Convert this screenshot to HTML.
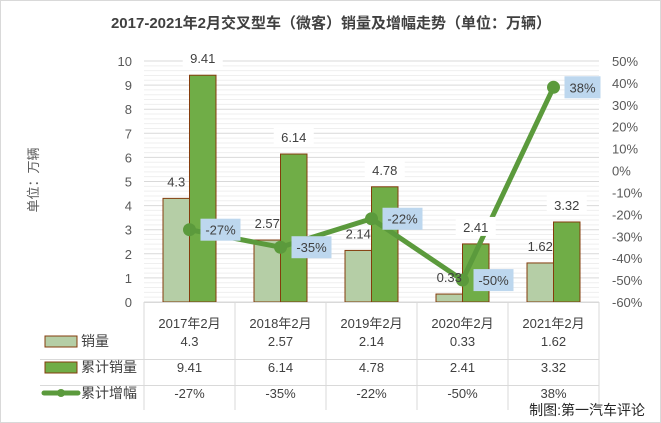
<!DOCTYPE html>
<html><head><meta charset="utf-8"><style>
body{margin:0;background:#fff}
svg{display:block;font-family:"Liberation Sans","Noto Sans CJK SC",sans-serif}
</style></head><body>
<svg width="661" height="423" viewBox="0 0 661 423">
<rect x="0.5" y="0.5" width="660" height="422" fill="#fff" stroke="#d9d9d9"/>
<text x="331" y="28" text-anchor="middle" font-size="15" font-weight="bold" fill="#404040">2017-2021年2月交叉型车（微客）销量及增幅走势（单位：万辆）</text>
<text transform="translate(38,180) rotate(-90)" text-anchor="middle" font-size="13" fill="#595959">单位：万辆</text>
<g id="grid"></g><g id="bars"></g><g id="line"></g><g id="labels"></g><g id="axes"></g><g id="table"></g>
<text x="645" y="415" text-anchor="end" font-size="14" fill="#262626">制图:第一汽车评论</text>
</svg>
<script>
const categories=["2017年2月","2018年2月","2019年2月","2020年2月","2021年2月"];
const sales=[4.3,2.57,2.14,0.33,1.62];
const cumSales=[9.41,6.14,4.78,2.41,3.32];
const growth=[-27,-35,-22,-50,38];
const leftTicks=[0,1,2,3,4,5,6,7,8,9,10];
const rightTicks=[-60,-50,-40,-30,-20,-10,0,10,20,30,40,50];
const NS="http://www.w3.org/2000/svg";
const L=144,R=599,T=61,B=302;
const step=(R-L)/categories.length;
const cx=i=>L+step*(i+0.5);
const yL=v=>B-(v/10)*(B-T);
const yR=p=>B-((p+60)/110)*(B-T);
function mk(tag,attrs,parent,txt){const e=document.createElementNS(NS,tag);for(const k in attrs)e.setAttribute(k,attrs[k]);if(txt!==undefined)e.textContent=txt;document.getElementById(parent).appendChild(e);return e;}
// grid
for(let v=0;v<=10.001;v+=0.2){const major=Math.abs(v-Math.round(v))<0.01;
 const g=mk('line',{x1:L,x2:R,y1:yL(v),y2:yL(v),stroke:major?'#d9d9d9':'#efefef','stroke-width':1},'grid');
 
 }
leftTicks.forEach(v=>{const t=mk('text',{x:132,y:yL(v)+5,'text-anchor':'end','font-size':13,fill:'#595959'},'axes',String(v));
 
 });
rightTicks.forEach(p=>{const t=mk('text',{x:612,y:yR(p)+5,'font-size':13,fill:'#595959'},'axes',p+'%');
 
 });
const bw=26.5;
categories.forEach((c,i)=>{
 const x=cx(i);
 const b1=mk('rect',{x:x-bw,y:yL(sales[i]),width:bw,height:B-yL(sales[i]),fill:'#b5cea6',stroke:'#843c0c','stroke-width':1},'bars');
 
 
 const b2=mk('rect',{x:x,y:yL(cumSales[i]),width:bw,height:B-yL(cumSales[i]),fill:'#70ad47',stroke:'#843c0c','stroke-width':1},'bars');
 
 
});
let d='';growth.forEach((p,i)=>{d+=(i?'L':'M')+cx(i)+','+yR(p);});
const ln=mk('path',{d:d,fill:'none',stroke:'#5b9a3c','stroke-width':5,'stroke-linejoin':'round'},'line');


growth.forEach((p,i)=>{const m=mk('circle',{cx:cx(i),cy:yR(p),r:6.5,fill:'#5b9a3c'},'line');
 
 });
categories.forEach((c,i)=>{
 const x=cx(i);
 [[x-bw/2,sales[i],'sales-label'],[x+bw/2,cumSales[i],'cum-sales-label']].forEach(([lx,v,nm])=>{
  const w=String(v).length*8+8,ty=yL(v)-14;
  if(nm==='cum-sales-label'){const bg=mk('rect',{x:lx-w/2,y:ty-13,width:w,height:19,fill:'#fff'},'labels');
   
   }
  const t=mk('text',{x:lx,y:ty+2,'text-anchor':'middle','font-size':13,fill:'#404040'},'labels',String(v));
  
  
 });
 const gx=x+12,gy=yR(growth[i]);
 const bx=mk('rect',{x:gx-1,y:gy-11,width:growth[i]<0?40:36,height:22,fill:'#bdd7ee'},'labels');
 
 
 const gt=mk('text',{x:gx+(growth[i]<0?19:17),y:gy+5,'text-anchor':'middle','font-size':13,fill:'#404040'},'labels',growth[i]+'%');
 
 
});
// table
const rows=[["销量",sales.map(String)],["累计销量",cumSales.map(String)],["累计增幅",growth.map(p=>p+'%')]];
const rowY=[345,371,397];
[B,359,385].forEach((yy,k)=>{const l=mk('line',{x1:k?40:L,x2:R,y1:yy+0.5,y2:yy+0.5,stroke:'#d9d9d9'},'table');
 
 });
for(let k=0;k<=categories.length;k++){const vx=L+step*k;const l=mk('line',{x1:vx,x2:vx,y1:B,y2:410,stroke:'#d9d9d9'},'table');
 
 }
categories.forEach((c,i)=>{const t=mk('text',{x:cx(i),y:328,'text-anchor':'middle','font-size':13,fill:'#404040'},'table',c);
 
 });
rows.forEach((r,k)=>{
 const y=rowY[k];
 if(k<2){const s=mk('rect',{x:45,y:y-9,width:32,height:11,fill:k?'#70ad47':'#b5cea6',stroke:'#843c0c','stroke-width':1},'table');
  
  }
 else{const s=mk('line',{x1:44,x2:78,y1:y-4,y2:y-4,stroke:'#5b9a3c','stroke-width':5,'stroke-linecap':'round'},'table');
  
  
  const c=mk('circle',{cx:61,cy:y-4,r:4,fill:'#5b9a3c'},'table');
  
  }
 const lt=mk('text',{x:81,y:y+1,'font-size':14,fill:'#404040'},'table',r[0]);
 
 
 r[1].forEach((v,i)=>{const t=mk('text',{x:cx(i),y:y+1,'text-anchor':'middle','font-size':13,fill:'#404040'},'table',v);
  
  });
});
</script>
</body></html>
